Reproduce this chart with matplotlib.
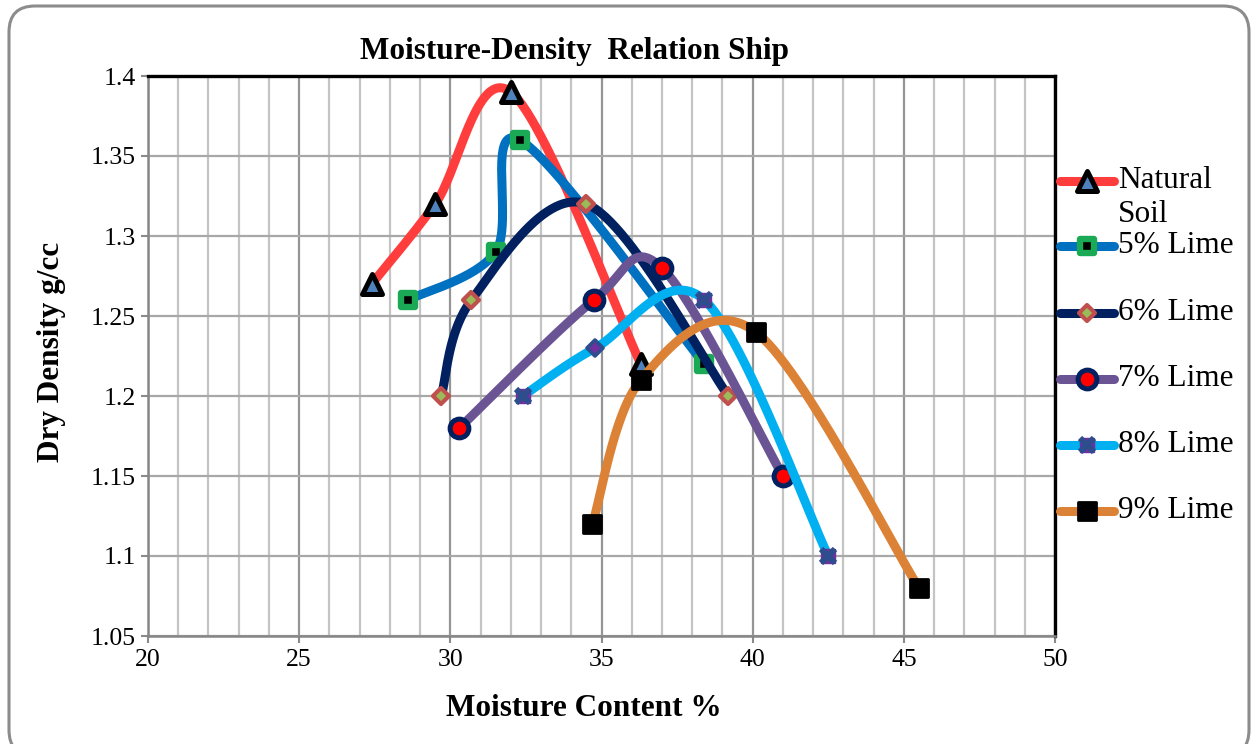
import numpy as np
import matplotlib
matplotlib.use("Agg")
import matplotlib.pyplot as plt
from matplotlib.lines import Line2D
from matplotlib.markers import MarkerStyle
from matplotlib.patches import FancyBboxPatch
from matplotlib.transforms import IdentityTransform
from matplotlib.ticker import MultipleLocator

# ---- data -------------------------------------------------------------
series_names = ["Natural\nSoil", "5% Lime", "6% Lime", "7% Lime", "8% Lime", "9% Lime"]

moisture_natural = [27.4, 29.5, 32.0, 36.3]
density_natural = [1.27, 1.32, 1.39, 1.22]

moisture_5 = [28.6, 31.5, 32.3, 38.4]
density_5 = [1.26, 1.29, 1.36, 1.22]

moisture_6 = [29.7, 30.7, 34.5, 39.2]
density_6 = [1.20, 1.26, 1.32, 1.20]

moisture_7 = [30.3, 34.75, 37.0, 41.0]
density_7 = [1.18, 1.26, 1.28, 1.15]

moisture_8 = [32.4, 34.8, 38.4, 42.5]
density_8 = [1.20, 1.23, 1.26, 1.10]

moisture_9 = [34.7, 36.3, 40.1, 45.5]
density_9 = [1.12, 1.21, 1.24, 1.08]

x_ticks = [20, 25, 30, 35, 40, 45, 50]
y_ticks = [1.05, 1.1, 1.15, 1.2, 1.25, 1.3, 1.35, 1.4]
y_tick_labels = ["1.05", "1.1", "1.15", "1.2", "1.25", "1.3", "1.35", "1.4"]

# ---- styling ----------------------------------------------------------
W, H = 1252, 744
plt.rcParams["font.family"] = ["Liberation Serif", "DejaVu Serif"]

fig = plt.figure(figsize=(W / 100, H / 100), dpi=100)
fig.patch.set_facecolor("white")


def fx(px):
    return px / W


def fy(py):
    return 1 - py / H


ax = fig.add_axes([fx(148), fy(636), fx(1055) - fx(148), fy(76) - fy(636)])
ax.set_xlim(20, 50)
ax.set_ylim(1.05, 1.4)

ax.xaxis.set_major_locator(MultipleLocator(5))
ax.xaxis.set_minor_locator(MultipleLocator(1))
ax.set_xticks(x_ticks)
ax.set_yticks(y_ticks)
ax.set_xticklabels([str(v) for v in x_ticks])
ax.set_yticklabels(y_tick_labels)
ax.tick_params(axis="both", which="major", labelsize=18.5, direction="out",
               length=5, width=1.5, color="#8a8a8a", pad=4)
ax.tick_params(axis="x", which="minor", length=0)

ax.grid(True, which="minor", axis="x", color="#c4c4c4", lw=1.6, zorder=0)
ax.grid(True, which="major", axis="x", color="#959595", lw=1.6, zorder=0)
ax.grid(True, which="major", axis="y", color="#a8a8a8", lw=1.6, zorder=0)
ax.set_axisbelow(True)

for side in ("left", "bottom"):
    ax.spines[side].set_color("#868686")
    ax.spines[side].set_linewidth(1.8)
for side in ("top", "right"):
    ax.spines[side].set_color("black")
    ax.spines[side].set_linewidth(2.4)

fig.canvas.draw()


def smooth_curve(xs, ys, n=60):
    """Bezier smoothing through the points, computed in screen space."""
    pts = ax.transData.transform(np.column_stack([xs, ys]))
    m = len(pts)
    out = [pts[0]]
    t = np.linspace(0, 1, n)[1:, None]
    for i in range(m - 1):
        p0 = pts[i - 1] if i > 0 else pts[i]
        p1 = pts[i]
        p2 = pts[i + 1]
        p3 = pts[i + 2] if i + 2 < m else pts[i + 1]
        c1 = p1 + (p2 - p0) / 6.0
        c2 = p2 - (p3 - p1) / 6.0
        seg = ((1 - t) ** 3) * p1 + 3 * ((1 - t) ** 2) * t * c1 \
            + 3 * (1 - t) * (t ** 2) * c2 + (t ** 3) * p2
        out.extend(seg)
    data = ax.transData.inverted().transform(np.array(out))
    return data[:, 0], data[:, 1]


def rounded(m):
    return MarkerStyle(m, joinstyle="round")


line_w = 6.5
styles = [
    dict(color="#ff3d3d", marker="^", ms=14, mfc="#4f81bd", mec="black", mew=3.6),
    dict(color="#0070c0", marker="s", ms=9.5, mfc="black", mec="#1aa955", mew=4.6),
    dict(color="#002060", marker="D", ms=8.5, mfc="#9bbb59", mec="#c0504d", mew=3.0),
    dict(color="#6b5494", marker="o", ms=13.5, mfc="#ff0000", mec="#002060", mew=3.6),
    dict(color="#00b0f0", marker="s", ms=8.5, mfc="#7030a0", mec="#2e4d8c", mew=1.2),
    dict(color="#dc8236", marker="s", ms=12.5, mfc="black", mec="black", mew=2.0),
]

all_x = [moisture_natural, moisture_5, moisture_6, moisture_7, moisture_8, moisture_9]
all_y = [density_natural, density_5, density_6, density_7, density_8, density_9]


def draw_crossed_box(target_ax, xs, ys, z, **kw):
    target_ax.plot(xs, ys, ls="none", marker="s", ms=10, mfc="#7030a0",
                   mec="#7030a0", mew=1, zorder=z, **kw)
    target_ax.plot(xs, ys, ls="none", marker="x", ms=10, mec="#2e4d8c",
                   mew=4.4, zorder=z, **kw)


for k, (xs, ys, st) in enumerate(zip(all_x, all_y, styles)):
    z = 3 + 2 * k
    sx, sy = smooth_curve(xs, ys)
    ax.plot(sx, sy, color=st["color"], lw=line_w, solid_capstyle="round",
            solid_joinstyle="round", zorder=z)
    if k == 4:
        # crossed-box markers; the second point carries a small diamond
        idx_box = [0, 2, 3]
        draw_crossed_box(ax, [xs[i] for i in idx_box], [ys[i] for i in idx_box], z + 1)
        ax.plot([xs[1]], [ys[1]], ls="none", marker=rounded("D"), ms=8,
                mfc="#7030a0", mec="#2e4d8c", mew=2.6, zorder=z + 1)
    else:
        ax.plot(xs, ys, ls="none", marker=rounded(st["marker"]), ms=st["ms"],
                mfc=st["mfc"], mec=st["mec"], mew=st["mew"], zorder=z + 1)

# ---- titles -----------------------------------------------------------
fig.text(fx(575), fy(52), "Moisture-Density  Relation Ship", ha="center",
         va="center", fontsize=22.5, fontweight="bold")
fig.text(fx(584), fy(708), "Moisture Content %", ha="center", va="center",
         fontsize=22.5, fontweight="bold")
fig.text(fx(52), fy(352), "Dry Density g/cc", ha="center", va="center",
         rotation=90, fontsize=22.5, fontweight="bold")

# ---- legend -----------------------------------------------------------
legend_y = [181, 246, 313, 379, 445, 511]
for k, (name, st, ly) in enumerate(zip(series_names, styles, legend_y)):
    fig.add_artist(Line2D([fx(1060), fx(1114)], [fy(ly), fy(ly)],
                          color=st["color"], lw=line_w, solid_capstyle="round",
                          transform=fig.transFigure))
    if k == 4:
        fig.add_artist(Line2D([fx(1087)], [fy(ly)], ls="none", marker="s", ms=10,
                              mfc="#7030a0", mec="#7030a0", transform=fig.transFigure))
        fig.add_artist(Line2D([fx(1087)], [fy(ly)], ls="none", marker="x", ms=10,
                              mec="#2e4d8c", mew=4.4, transform=fig.transFigure))
    else:
        fig.add_artist(Line2D([fx(1087)], [fy(ly)], ls="none",
                              marker=rounded(st["marker"]), ms=st["ms"],
                              mfc=st["mfc"], mec=st["mec"], mew=st["mew"],
                              transform=fig.transFigure))
    if k == 0:
        first, second = name.split("\n")
        fig.text(fx(1118), fy(ly), first, ha="left", va="center", fontsize=22.5)
        fig.text(fx(1118), fy(ly + 33), second, ha="left", va="center", fontsize=22.5)
    else:
        fig.text(fx(1118), fy(ly), name, ha="left", va="center", fontsize=22.5)

# ---- rounded outer frame ---------------------------------------------
frame = FancyBboxPatch((9, -12), 1240, 750, boxstyle="round,pad=0,rounding_size=26",
                       fc="none", ec="#8c8c8c", lw=2.2, transform=IdentityTransform())
fig.patches.append(frame)

fig.savefig("out.png", dpi=100, facecolor="white")
